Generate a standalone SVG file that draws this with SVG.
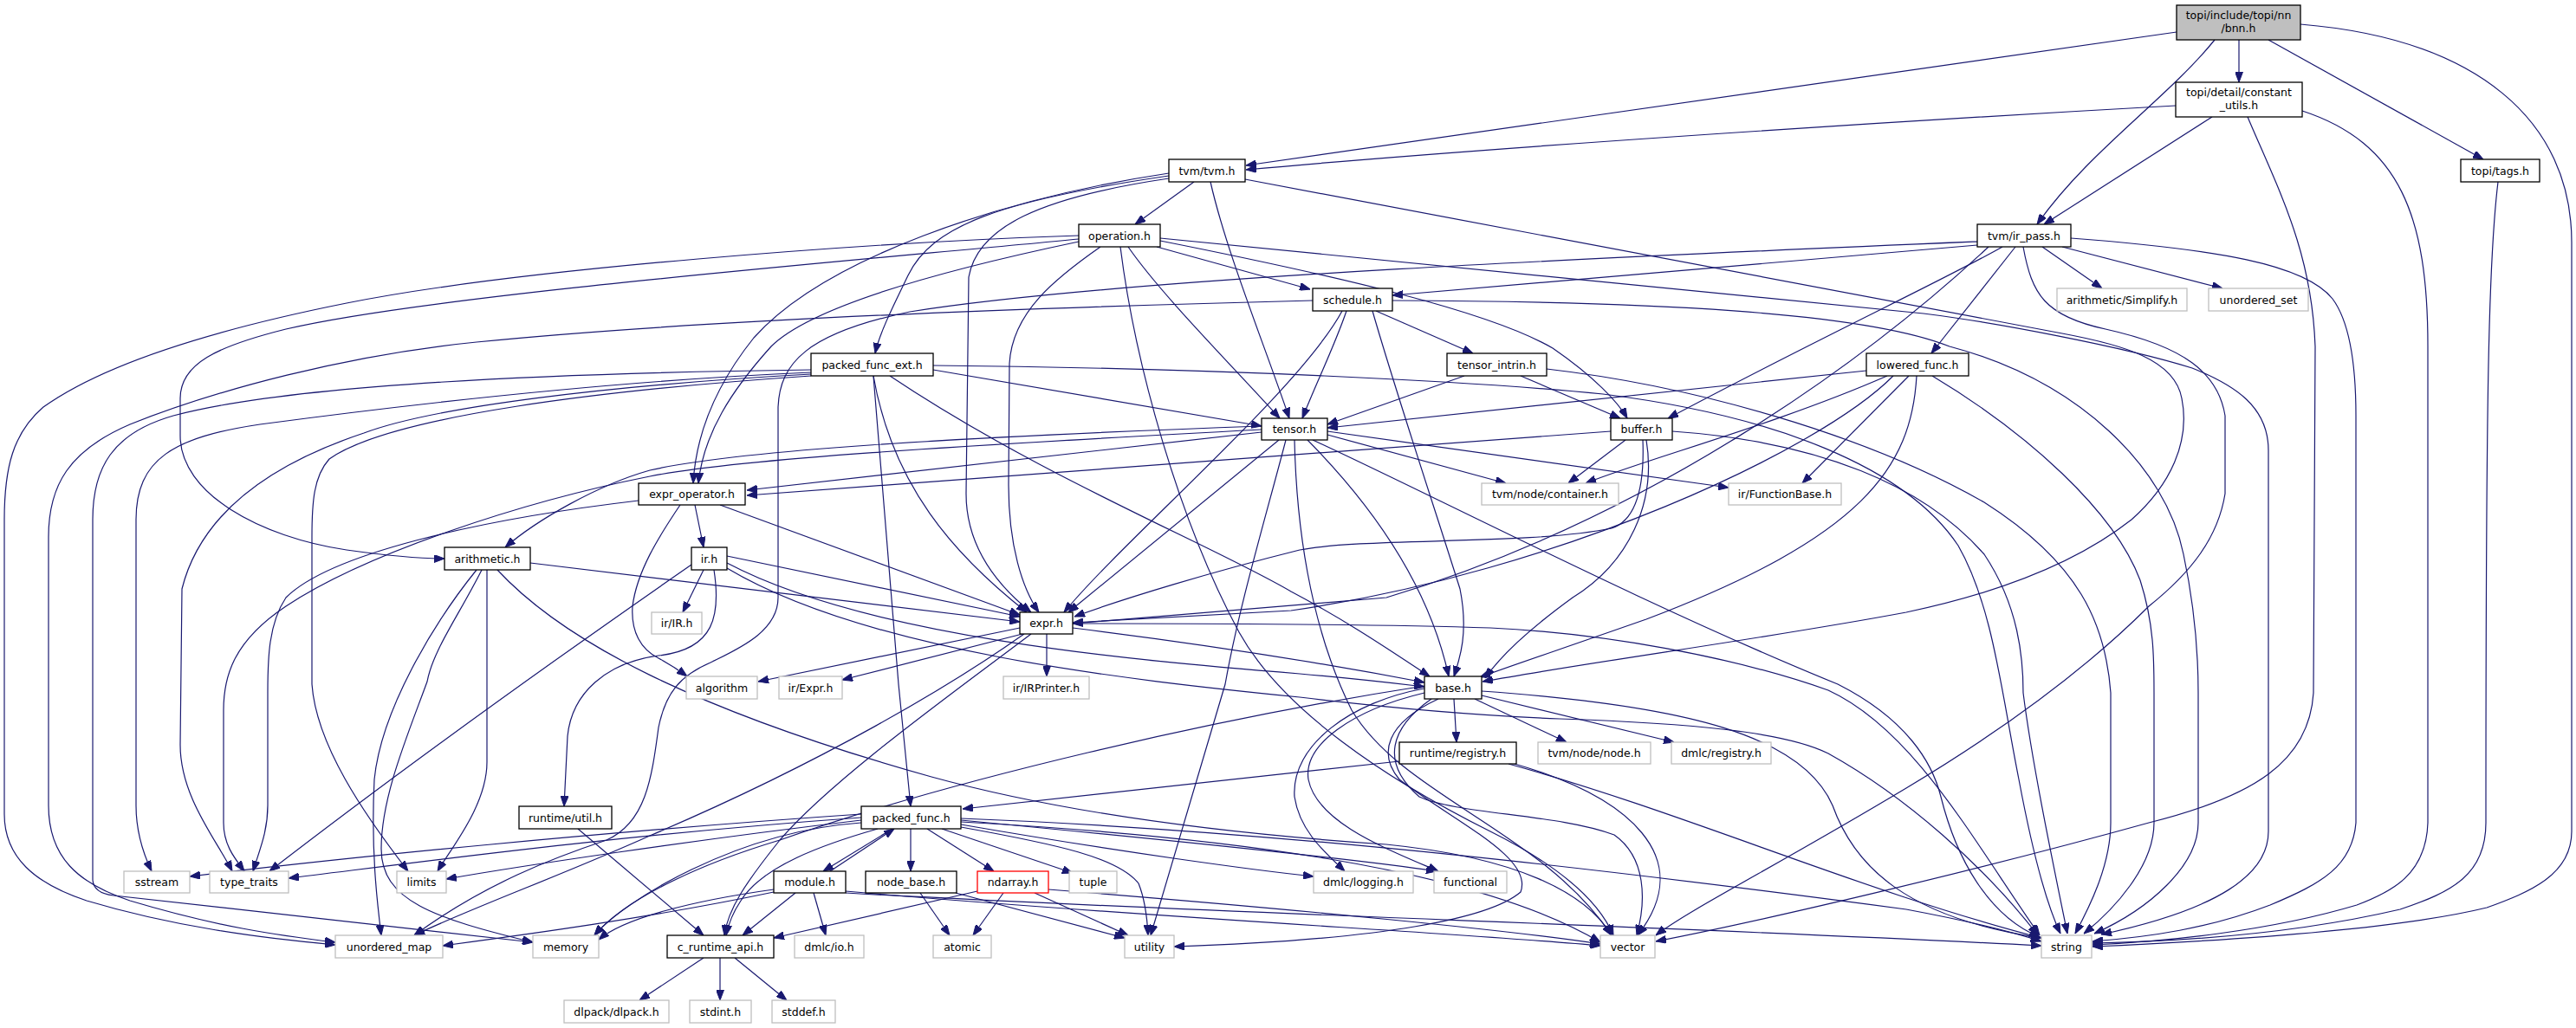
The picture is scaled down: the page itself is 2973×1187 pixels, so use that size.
<svg xmlns="http://www.w3.org/2000/svg" width="2973" height="1187" viewBox="0 0 2973 1187">
<style>
.n rect{fill:#fff;stroke:#000;stroke-width:1.3}
.g rect{fill:#fff;stroke:#bfbfbf;stroke-width:1.3}
.r rect{fill:#fff;stroke:#ff0000;stroke-width:1.3}
.s rect{fill:#bfbfbf;stroke:#000;stroke-width:1.3}
text{font-family:"DejaVu Sans",sans-serif;font-size:12.5px;text-anchor:middle;fill:#000}
#edges path{fill:none;stroke:#191970;stroke-width:1.2;marker-end:url(#a)}
</style>
<defs>
<marker id="a" markerWidth="12" markerHeight="9" refX="12" refY="4.5" orient="auto" markerUnits="userSpaceOnUse"><path d="M0,0 L12,4.5 L0,9 z" fill="#191970" stroke="#191970" stroke-width="1"/></marker>
</defs>
<rect width="2973" height="1187" fill="#fff"/>
<g id="edges">
<path d="M2512,37 L1438,191"/>
<path d="M2556,46 C2500,115 2410,175 2351,259"/>
<path d="M2584,46 L2584,95"/>
<path d="M2618,46 L2866,184"/>
<path d="M2655,28 C2860,45 2968,140 2968,280 L2968,960 C2968,1010 2920,1030 2870,1048 C2760,1075 2550,1087 2415,1093"/>
<path d="M2511,122 C2150,142 1700,172 1438,196"/>
<path d="M2553,135 L2359,259"/>
<path d="M2594,135 C2630,220 2668,290 2672,400 L2670,800 C2665,880 2600,920 2480,950 C2300,1000 2050,1060 1911,1087"/>
<path d="M2657,128 C2770,165 2802,250 2802,400 L2802,950 C2800,1010 2760,1030 2720,1045 C2620,1075 2500,1087 2415,1091"/>
<path d="M2883,210 C2872,300 2869,450 2869,950 C2869,1010 2830,1030 2770,1050 C2650,1078 2520,1087 2415,1089"/>
<path d="M1378,210 L1310,259"/>
<path d="M1397,210 C1415,290 1460,400 1488,483"/>
<path d="M1437,207 L2380,385 C2450,398 2510,415 2518,460 C2528,510 2505,560 2460,600 C2390,655 2290,688 2200,707 C2040,737 1850,762 1711,787"/>
<path d="M1349,200 C1150,230 950,300 870,390 C822,450 803,505 800,558"/>
<path d="M1349,203 C1150,232 1075,262 1048,318 C1030,355 1015,385 1010,408"/>
<path d="M1349,206 C1200,228 1128,262 1118,320 L1115,570 C1115,630 1150,675 1190,707"/>
<path d="M1245,272 C1000,280 600,310 400,350 C250,380 120,420 50,470 C15,500 5,540 5,600 L5,940 C5,990 40,1020 100,1040 C200,1070 300,1083 387,1091"/>
<path d="M1245,276 C1000,300 500,340 330,380 C250,400 208,420 208,460 L208,503 C208,570 300,620 400,635 C450,642 490,645 513,645"/>
<path d="M1245,279 C1050,320 930,360 890,400 C845,450 812,500 806,558"/>
<path d="M1270,285 C1220,320 1168,360 1165,420 L1164,560 C1164,630 1180,680 1199,707"/>
<path d="M1293,285 C1310,420 1360,600 1430,730 C1480,820 1600,900 1720,960 C1800,1000 1845,1040 1862,1080"/>
<path d="M1302,285 C1340,340 1420,420 1477,483"/>
<path d="M1335,285 L1512,334"/>
<path d="M1339,278 C1550,320 1720,360 1792,402 C1840,435 1868,465 1878,483"/>
<path d="M1339,275 L2220,362 C2300,372 2450,400 2530,425 C2580,445 2618,470 2618,520 L2618,960 C2618,1010 2560,1050 2425,1079"/>
<path d="M2282,283 L1607,341"/>
<path d="M2282,279 C1900,295 1300,320 1050,360 C930,385 900,420 898,470 L898,690 C898,730 850,750 820,765 C785,780 768,800 760,840 C752,900 745,950 700,970 C640,990 560,1020 478,1080"/>
<path d="M2326,285 L2229,408"/>
<path d="M2357,285 L2426,333"/>
<path d="M2380,285 L2565,333"/>
<path d="M2311,285 C2250,320 2100,390 1925,483"/>
<path d="M2295,285 C2150,420 1900,600 1600,690 L1238,720"/>
<path d="M2335,285 C2345,340 2360,365 2430,380 C2520,400 2560,430 2568,480 L2568,570 C2560,620 2530,660 2480,700 C2400,780 2300,850 2200,910 C2050,1000 1950,1050 1911,1080"/>
<path d="M2390,275 C2560,288 2660,305 2692,345 C2712,372 2719,420 2719,480 L2719,950 C2715,1000 2680,1020 2620,1045 C2550,1072 2480,1082 2415,1087"/>
<path d="M936,427 C700,430 350,440 200,480 C130,500 107,540 107,600 L107,1015 C107,1025 115,1032 131,1034 L615,1088"/>
<path d="M936,430 C700,440 450,470 300,490 C200,505 157,530 157,600 L157,930 C157,960 165,985 175,1006"/>
<path d="M936,432 C700,445 500,470 420,500 C300,540 230,600 210,680 L208,860 C208,920 250,970 268,1006"/>
<path d="M936,434 C700,450 450,480 380,530 C362,550 360,580 360,620 L360,790 C365,860 420,940 471,1006"/>
<path d="M1008,434 L1037,790 L1051,931"/>
<path d="M1008,434 C1030,560 1100,640 1185,707"/>
<path d="M1077,427 L1456,492"/>
<path d="M1027,434 C1200,550 1400,630 1490,683 C1560,720 1610,755 1650,781"/>
<path d="M1077,422 C1400,425 1700,440 1850,455 C2050,480 2200,540 2260,630 C2300,700 2310,800 2330,900 C2345,980 2360,1040 2378,1078"/>
<path d="M1588,359 L1700,408"/>
<path d="M1554,359 C1540,400 1520,440 1503,483"/>
<path d="M1549,359 C1500,450 1300,620 1228,707"/>
<path d="M1584,359 C1610,450 1660,600 1685,680 C1695,730 1685,760 1678,781"/>
<path d="M1607,347 C1900,348 2150,360 2250,400 C2400,440 2500,540 2520,640 C2537,720 2537,780 2537,800 L2537,950 C2537,1000 2480,1050 2417,1078"/>
<path d="M1515,347 C1200,355 800,370 550,395 C400,410 250,450 150,490 C80,520 56,560 56,620 L56,930 C56,990 90,1020 150,1040 C250,1070 320,1080 387,1088"/>
<path d="M1690,434 L1532,490"/>
<path d="M1755,434 L1870,483"/>
<path d="M1785,426 C1950,445 2150,500 2290,580 C2400,650 2430,720 2436,800 L2436,950 C2436,1000 2410,1050 2395,1078"/>
<path d="M2154,428 L1532,494"/>
<path d="M2178,434 C2050,490 1900,530 1830,558"/>
<path d="M2203,434 L2080,558"/>
<path d="M2212,434 C2206,540 2150,620 1900,715 C1800,750 1740,770 1708,782"/>
<path d="M2185,434 C2100,520 1800,660 1490,705 L1238,719"/>
<path d="M2230,434 C2340,500 2440,590 2470,670 C2486,720 2486,760 2486,800 L2486,950 C2486,1000 2440,1050 2405,1078"/>
<path d="M1456,499 L862,566"/>
<path d="M1456,492 C1100,505 850,520 750,543 C690,560 620,600 583,632"/>
<path d="M1456,496 C1100,515 850,530 750,550 C600,580 420,640 330,700 C270,740 258,780 258,820 L258,950 C258,975 270,990 282,1006"/>
<path d="M1532,502 L1738,558"/>
<path d="M1532,498 L1995,563"/>
<path d="M1476,508 L1233,707"/>
<path d="M1509,508 C1590,590 1650,680 1672,781"/>
<path d="M1494,508 C1496,600 1510,720 1560,820 C1620,920 1780,960 1860,1080"/>
<path d="M1484,508 C1460,600 1430,700 1414,790 L1328,1080"/>
<path d="M1515,508 C1650,570 1900,700 2121,790 C2200,830 2230,880 2240,920 C2260,1000 2300,1060 2354,1082"/>
<path d="M1876,508 L1810,558"/>
<path d="M1859,498 L862,572"/>
<path d="M1896,508 C1898,560 1890,600 1860,610 C1760,630 1580,620 1500,635 C1400,660 1300,690 1240,712"/>
<path d="M1900,508 C1912,580 1880,650 1815,690 C1760,730 1730,760 1714,783"/>
<path d="M1930,498 C2100,510 2220,560 2290,640 C2330,700 2335,760 2335,800 C2345,880 2370,1000 2386,1078"/>
<path d="M802,583 L812,632"/>
<path d="M831,583 L1177,710"/>
<path d="M785,583 C760,620 735,660 730,700 C728,730 740,750 760,760 C775,768 785,775 793,781"/>
<path d="M737,578 C550,600 380,640 330,690 C310,720 309,760 309,800 L309,930 C309,960 300,980 292,1006"/>
<path d="M812,658 L788,707"/>
<path d="M839,642 L1177,712"/>
<path d="M839,650 C1000,735 1300,762 1500,778 C1570,784 1610,789 1644,793"/>
<path d="M839,656 C1000,752 1300,785 1500,805 C1600,817 1700,826 1800,830 C1950,835 2060,845 2110,870 C2200,920 2290,1000 2352,1080"/>
<path d="M798,652 C700,720 500,860 311,1006"/>
<path d="M824,658 C832,710 825,750 760,757 C700,765 660,800 655,850 L651,931"/>
<path d="M612,650 L1177,718"/>
<path d="M574,658 C650,740 800,820 1075,897 C1250,945 1450,965 1600,975 C1750,990 1830,1030 1860,1080"/>
<path d="M562,658 L562,880 C562,930 520,980 505,1006"/>
<path d="M550,658 C500,720 440,820 432,900 C428,980 435,1040 440,1080"/>
<path d="M556,658 C530,710 500,750 493,787 C470,850 440,920 440,980 C440,1040 500,1060 615,1088"/>
<path d="M1177,725 L875,787"/>
<path d="M1180,732 L972,785"/>
<path d="M1208,732 L1208,781"/>
<path d="M1238,725 C1400,745 1550,770 1644,788"/>
<path d="M1238,720 C1400,720 1600,721 1720,725 C1850,731 2000,758 2110,797 C2210,843 2280,975 2354,1080"/>
<path d="M1182,732 C1100,790 950,880 750,965 C650,1010 540,1050 478,1080"/>
<path d="M1190,732 C1100,800 960,900 900,970 C860,1020 840,1050 836,1080"/>
<path d="M1678,807 L1681,857"/>
<path d="M1702,807 L1808,857"/>
<path d="M1710,803 L1932,857"/>
<path d="M1710,798 C1950,815 2080,850 2115,930 C2140,1000 2200,1060 2356,1083"/>
<path d="M1652,807 C1605,840 1592,880 1638,920 C1680,940 1800,940 1863,964 C1900,990 1900,1040 1889,1080"/>
<path d="M1644,795 C1560,810 1490,860 1494,920 C1500,960 1530,985 1552,1006"/>
<path d="M1644,800 C1560,820 1504,860 1510,900 C1520,950 1600,980 1660,1006"/>
<path d="M1644,792 C1400,830 1100,900 900,970 C800,1000 720,1040 686,1080"/>
<path d="M1660,807 C1600,835 1590,870 1615,900 C1680,950 1770,990 1755,1030 C1720,1060 1600,1085 1355,1093"/>
<path d="M1615,879 L1111,934"/>
<path d="M1741,882 C1950,940 2150,1030 2356,1083"/>
<path d="M1748,882 C1880,920 1960,990 1890,1080"/>
<path d="M667,957 L812,1080"/>
<path d="M1030,957 L950,1006"/>
<path d="M1051,957 L1051,1006"/>
<path d="M1070,957 L1147,1006"/>
<path d="M1087,957 L1238,1008"/>
<path d="M1109,955 C1220,975 1290,990 1314,1020 C1322,1040 1324,1060 1325,1080"/>
<path d="M1013,957 C950,975 880,1000 855,1040 C845,1055 840,1070 838,1080"/>
<path d="M1109,949 C1400,965 1700,1000 1847,1088"/>
<path d="M1109,945 C1500,960 1900,1010 2200,1050 C2280,1065 2320,1075 2356,1087"/>
<path d="M1109,952 C1300,985 1450,1005 1516,1012"/>
<path d="M1109,947 C1350,970 1550,990 1658,1006"/>
<path d="M994,950 C850,960 720,1040 686,1080"/>
<path d="M994,940 C700,960 400,990 219,1012"/>
<path d="M994,944 C700,965 450,1000 333,1014"/>
<path d="M994,947 C800,970 600,1000 515,1015"/>
<path d="M958,1006 L1032,957"/>
<path d="M918,1031 L857,1080"/>
<path d="M939,1031 L953,1080"/>
<path d="M893,1027 C800,1040 720,1060 691,1085"/>
<path d="M893,1030 C750,1060 600,1080 511,1092"/>
<path d="M976,1029 C1300,1058 1700,1078 1847,1092"/>
<path d="M976,1031 C1400,1055 1900,1068 2356,1092"/>
<path d="M1062,1031 L1096,1080"/>
<path d="M1103,1031 L1298,1083"/>
<path d="M1128,1029 L893,1083"/>
<path d="M1158,1031 L1123,1080"/>
<path d="M1194,1031 L1302,1080"/>
<path d="M1210,1027 C1500,1050 1750,1075 1847,1090"/>
<path d="M812,1106 L738,1155"/>
<path d="M831,1106 L831,1155"/>
<path d="M848,1106 L908,1155"/>
</g>
<g id="bnn" class="s"><rect x="2512" y="6" width="143" height="40"/><text x="2583.5" y="21.5">topi/include/topi/nn</text><text x="2583.5" y="36.5">/bnn.h</text></g>
<g id="constant_utils" class="n"><rect x="2511" y="95" width="146" height="40"/><text x="2584" y="111">topi/detail/constant</text><text x="2584" y="126">_utils.h</text></g>
<g id="tvm" class="n"><rect x="1349" y="184" width="88" height="26"/><text x="1393" y="201.5">tvm/tvm.h</text></g>
<g id="tags" class="n"><rect x="2840" y="184" width="91" height="26"/><text x="2885.5" y="201.5">topi/tags.h</text></g>
<g id="operation" class="n"><rect x="1245" y="259" width="94" height="26"/><text x="1292" y="276.5">operation.h</text></g>
<g id="ir_pass" class="n"><rect x="2282" y="259" width="108" height="26"/><text x="2336" y="276.5">tvm/ir_pass.h</text></g>
<g id="schedule" class="n"><rect x="1515" y="333" width="92" height="26"/><text x="1561" y="350.5">schedule.h</text></g>
<g id="simplify" class="g"><rect x="2374" y="333" width="150" height="26"/><text x="2449" y="350.5">arithmetic/Simplify.h</text></g>
<g id="unordered_set" class="g"><rect x="2549" y="333" width="115" height="26"/><text x="2606.5" y="350.5">unordered_set</text></g>
<g id="packed_func_ext" class="n"><rect x="936" y="408" width="141" height="26"/><text x="1006.5" y="425.5">packed_func_ext.h</text></g>
<g id="tensor_intrin" class="n"><rect x="1670" y="408" width="115" height="26"/><text x="1727.5" y="425.5">tensor_intrin.h</text></g>
<g id="lowered_func" class="n"><rect x="2154" y="408" width="118" height="26"/><text x="2213" y="425.5">lowered_func.h</text></g>
<g id="tensor" class="n"><rect x="1456" y="483" width="76" height="25"/><text x="1494" y="500">tensor.h</text></g>
<g id="buffer" class="n"><rect x="1859" y="483" width="71" height="25"/><text x="1894.5" y="500">buffer.h</text></g>
<g id="expr_operator" class="n"><rect x="737" y="558" width="123" height="25"/><text x="798.5" y="575">expr_operator.h</text></g>
<g id="container" class="g"><rect x="1710" y="558" width="158" height="25"/><text x="1789" y="575">tvm/node/container.h</text></g>
<g id="functionbase" class="g"><rect x="1995" y="558" width="130" height="25"/><text x="2060" y="575">ir/FunctionBase.h</text></g>
<g id="arithmetic" class="n"><rect x="513" y="632" width="99" height="26"/><text x="562.5" y="649.5">arithmetic.h</text></g>
<g id="ir" class="n"><rect x="798" y="632" width="41" height="26"/><text x="818.5" y="649.5">ir.h</text></g>
<g id="ir_IR" class="g"><rect x="752" y="707" width="58" height="25"/><text x="781" y="724">ir/IR.h</text></g>
<g id="expr" class="n"><rect x="1177" y="707" width="61" height="25"/><text x="1207.5" y="724">expr.h</text></g>
<g id="algorithm" class="g"><rect x="792" y="781" width="82" height="26"/><text x="833" y="798.5">algorithm</text></g>
<g id="ir_Expr" class="g"><rect x="899" y="781" width="73" height="26"/><text x="935.5" y="798.5">ir/Expr.h</text></g>
<g id="ir_IRPrinter" class="g"><rect x="1158" y="781" width="99" height="26"/><text x="1207.5" y="798.5">ir/IRPrinter.h</text></g>
<g id="base" class="n"><rect x="1644" y="781" width="66" height="26"/><text x="1677" y="798.5">base.h</text></g>
<g id="registry" class="n"><rect x="1615" y="857" width="135" height="25"/><text x="1682.5" y="874">runtime/registry.h</text></g>
<g id="node" class="g"><rect x="1775" y="857" width="130" height="25"/><text x="1840" y="874">tvm/node/node.h</text></g>
<g id="dmlc_registry" class="g"><rect x="1929" y="857" width="115" height="25"/><text x="1986.5" y="874">dmlc/registry.h</text></g>
<g id="util" class="n"><rect x="599" y="931" width="107" height="26"/><text x="652.5" y="948.5">runtime/util.h</text></g>
<g id="packed_func" class="n"><rect x="994" y="931" width="115" height="26"/><text x="1051.5" y="948.5">packed_func.h</text></g>
<g id="sstream" class="g"><rect x="143" y="1006" width="76" height="25"/><text x="181" y="1023">sstream</text></g>
<g id="type_traits" class="g"><rect x="242" y="1006" width="91" height="25"/><text x="287.5" y="1023">type_traits</text></g>
<g id="limits" class="g"><rect x="458" y="1006" width="57" height="25"/><text x="486.5" y="1023">limits</text></g>
<g id="module" class="n"><rect x="893" y="1006" width="83" height="25"/><text x="934.5" y="1023">module.h</text></g>
<g id="node_base" class="n"><rect x="999" y="1006" width="105" height="25"/><text x="1051.5" y="1023">node_base.h</text></g>
<g id="ndarray" class="r"><rect x="1128" y="1006" width="82" height="25"/><text x="1169" y="1023">ndarray.h</text></g>
<g id="tuple" class="g"><rect x="1234" y="1006" width="55" height="25"/><text x="1261.5" y="1023">tuple</text></g>
<g id="logging" class="g"><rect x="1516" y="1006" width="115" height="25"/><text x="1573.5" y="1023">dmlc/logging.h</text></g>
<g id="functional" class="g"><rect x="1655" y="1006" width="84" height="25"/><text x="1697" y="1023">functional</text></g>
<g id="unordered_map" class="g"><rect x="387" y="1080" width="124" height="26"/><text x="449" y="1097.5">unordered_map</text></g>
<g id="memory" class="g"><rect x="615" y="1080" width="76" height="26"/><text x="653" y="1097.5">memory</text></g>
<g id="c_runtime_api" class="n"><rect x="770" y="1080" width="123" height="26"/><text x="831.5" y="1097.5">c_runtime_api.h</text></g>
<g id="dmlc_io" class="g"><rect x="917" y="1080" width="80" height="26"/><text x="957" y="1097.5">dmlc/io.h</text></g>
<g id="atomic" class="g"><rect x="1077" y="1080" width="67" height="26"/><text x="1110.5" y="1097.5">atomic</text></g>
<g id="utility" class="g"><rect x="1298" y="1080" width="57" height="26"/><text x="1326.5" y="1097.5">utility</text></g>
<g id="vector" class="g"><rect x="1847" y="1080" width="63" height="26"/><text x="1878.5" y="1097.5">vector</text></g>
<g id="string" class="g"><rect x="2356" y="1080" width="58" height="26"/><text x="2385" y="1097.5">string</text></g>
<g id="dlpack" class="g"><rect x="651" y="1155" width="121" height="26"/><text x="711.5" y="1172.5">dlpack/dlpack.h</text></g>
<g id="stdint" class="g"><rect x="796" y="1155" width="71" height="26"/><text x="831.5" y="1172.5">stdint.h</text></g>
<g id="stddef" class="g"><rect x="891" y="1155" width="73" height="26"/><text x="927.5" y="1172.5">stddef.h</text></g>
</svg>
